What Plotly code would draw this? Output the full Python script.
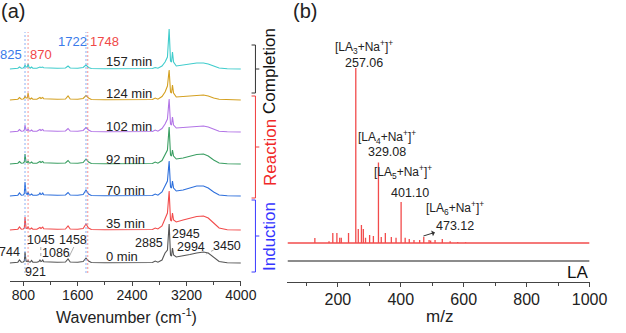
import plotly.graph_objects as go

W, H = 626, 333
FONT = "Liberation Sans, Arial, sans-serif"

# ---------------- Panel (a): FTIR spectra ----------------
wavenumbers = [600, 640, 660, 720, 744, 770, 800, 815, 825, 840, 858, 870, 885, 905, 921, 940,
               1000, 1030, 1045, 1060, 1075, 1086, 1100, 1140, 1180, 1220, 1300, 1420, 1458, 1490,
               1600, 1680, 1722, 1760, 1800, 2000, 2400, 2700, 2740, 2780, 2840, 2885, 2920, 2945,
               2965, 2980, 2994, 3010, 3050, 3150, 3250, 3350, 3450, 3520, 3600, 3680, 3800, 4000]

spec_0min = [0, 0.5, 0.3, 0.8, 3, 0.8, 1, 2, 11, 2, 1.5, 2.5, 1, 1, 2.5, 0.8, 0.8, 1.5, 3, 1.5,
             2, 3, 1.2, 1, 1.5, 1, 0.8, 1, 4, 1, 0.8, 1.5, 5, 2, 0.5, 0.3, 0.3, 0.5, 2, 0.8,
             3, 10, 13, 39, 8, 7, 15, 8, 6, 7, 8.5, 10, 11, 10, 6, 1.5, 0.3, 0]
spec_35min = [0, 0.5, 0.3, 0.8, 3, 0.8, 1, 2, 13, 2, 1.5, 3.5, 1, 1, 2, 0.8, 0.8, 1.5, 2.5, 1.5,
              2, 3, 1.2, 1, 1.5, 1, 0.8, 1, 4, 1, 0.8, 1.5, 6, 2, 0.5, 0.3, 0.3, 0.5, 2, 1,
              4, 12, 17, 39, 10, 9, 17, 10, 8, 10, 12, 13.5, 14, 12, 7, 2, 0.3, 0]
spec_70min = [0, 0.5, 0.3, 0.8, 3, 0.8, 1, 2.5, 14, 2.5, 1.5, 4, 1, 1, 2, 0.8, 0.8, 1.5, 3, 1.5,
              2, 3, 1.2, 1, 1.5, 1, 0.8, 1, 3.5, 1, 0.8, 1.5, 6, 2, 0.5, 0.3, 0.3, 0.5, 2, 0.8,
              4, 10, 15, 35, 9, 8, 15, 8, 5, 6, 8, 10, 10, 8, 4, 1, 0.3, 0]
spec_92min = [0, 0.5, 0.3, 0.8, 2.5, 0.8, 1, 2, 10, 2, 1.5, 3, 1, 1, 2, 0.8, 0.8, 1.5, 2.5, 1.5,
              2, 2.5, 1.2, 1, 1.5, 1, 0.8, 1, 3.5, 1, 0.8, 1.5, 5, 2, 0.5, 0.3, 0.3, 0.5, 2, 0.8,
              3.5, 9, 14, 37, 9, 8, 14, 8, 5, 6, 8, 9.5, 10, 8, 4, 1, 0.3, 0]
spec_102min = [0, 0.5, 0.3, 0.8, 2.5, 0.8, 1, 2, 7, 2, 1.5, 3, 1, 1, 2, 0.8, 0.8, 1.5, 2.5, 1.5,
               2, 2.5, 1.2, 1, 1.5, 1, 0.8, 1, 3.5, 1, 0.8, 1.5, 4.5, 2, 0.5, 0.3, 0.3, 0.5, 2, 0.8,
               3.5, 8, 13, 33, 8, 7, 15, 7, 4, 4.5, 5.5, 6, 6, 5, 2.5, 0.8, 0.3, 0]
spec_124min = [0, 0.5, 0.3, 0.8, 2.5, 0.8, 1, 2, 4, 2, 2, 7, 1.5, 1, 2, 0.8, 0.8, 1.5, 2.5, 1.5,
               2, 2.5, 1.2, 1, 1.5, 1, 0.8, 1, 4, 1, 0.8, 1.5, 4.5, 2, 0.5, 0.3, 0.3, 0.5, 2, 0.8,
               3.5, 8, 14, 30, 8, 7, 15, 7, 3, 3.5, 4.5, 5, 5, 4, 2, 0.8, 0.3, 0]
spec_157min = [0, 0.5, 0.3, 0.8, 2, 0.8, 1, 2, 4, 2, 2, 5, 1.5, 1, 2, 0.8, 0.8, 1.5, 2, 1.5,
               2, 2, 1.2, 1, 1.5, 1, 0.8, 1, 3, 1, 0.8, 1.5, 4, 1.5, 0.5, 0.3, 0.3, 0.5, 1.5, 0.8,
               3, 7, 12, 40, 8, 7, 17, 7, 3, 4, 5, 6, 6, 5, 3, 1, 0.3, 0]

time_labels = ["0 min", "35 min", "70 min", "92 min", "102 min", "124 min", "157 min"]
spectra = [spec_0min, spec_35min, spec_70min, spec_92min, spec_102min, spec_124min, spec_157min]
spec_colors = ["#555555", "#f24b4b", "#2d6fdc", "#3a9e62", "#b274e6", "#d4a020", "#3fcccc"]
offsets = [18, 51, 85, 117, 149, 181, 212]

marker_lines = [825, 870, 1722, 1748]
marker_colors = ["#3a7bea", "#f04848", "#3a7bea", "#f04848"]
marker_line_colors = ["#6f9cf0", "#f27a7a", "#6f9cf0", "#f27a7a"]

peak_labels = ["744", "921", "1045", "1086", "1458", "2885", "2945", "2994", "3450"]

# ---------------- Panel (b): MS ----------------
mz = [127, 172, 184, 197, 206, 211, 234, 257.06, 265, 275, 281, 288, 301, 313, 329.08, 338, 351,
      370, 385, 401.10, 414, 427, 442, 460, 473.12, 490, 495, 509, 532, 557, 581, 606]
intensity = [2.9, 1.0, 5.7, 5.7, 3.0, 3.0, 5.7, 100, 8.0, 10.3, 8.0, 3.0, 4.6, 4.0, 46, 3.4, 5.7,
             3.4, 3.0, 23.4, 3.0, 2.3, 1.7, 1.7, 3.4, 1.7, 1.5, 1.7, 2.3, 1.0, 0.6, 0.4]
ion_names = ["[LA<sub>3</sub>+Na<sup>+</sup>]<sup>+</sup>", "[LA<sub>4</sub>+Na<sup>+</sup>]<sup>+</sup>",
             "[LA<sub>5</sub>+Na<sup>+</sup>]<sup>+</sup>", "[LA<sub>6</sub>+Na<sup>+</sup>]<sup>+</sup>"]
ion_mz = ["257.06", "329.08", "401.10", "473.12"]

PROD_BASE = 39
LA_BASE = 21
PX_PER_PCT = 1.75
MZ_RANGE = [40, 1000]


def px(xp, yp):
    return xp / W, 1 - yp / H


fig = go.Figure()

for spec, off, col in zip(spectra, offsets, spec_colors):
    fig.add_trace(go.Scatter(x=wavenumbers, y=[v + off for v in spec], mode="lines",
                             line=dict(color=col, width=1.1), xaxis="x", yaxis="y",
                             hoverinfo="skip", showlegend=False))

xs, ys = [], []
for m, inten in zip(mz, intensity):
    xs += [m, m, None]
    ys += [PROD_BASE, PROD_BASE + inten * PX_PER_PCT, None]
fig.add_trace(go.Scatter(x=xs, y=ys, mode="lines", line=dict(color="#f24b4b", width=1.3),
                         xaxis="x2", yaxis="y2", hoverinfo="skip", showlegend=False))
fig.add_trace(go.Scatter(x=MZ_RANGE, y=[PROD_BASE] * 2, mode="lines",
                         line=dict(color="#f24b4b", width=1.3), xaxis="x2", yaxis="y2",
                         hoverinfo="skip", showlegend=False))
fig.add_trace(go.Scatter(x=MZ_RANGE, y=[LA_BASE] * 2, mode="lines",
                         line=dict(color="#666666", width=1.3), xaxis="x2", yaxis="y2",
                         hoverinfo="skip", showlegend=False))

shapes = []
for wn, c in zip(marker_lines, marker_line_colors):
    shapes.append(dict(type="line", xref="x", yref="y", x0=wn, x1=wn, y0=8, y1=249,
                       line=dict(color=c, width=0.8, dash="2px,2px")))

# brackets
brackets = [(45, 93, "#333333"), (96, 198, "#f03c3c"), (200, 272, "#3b3bff")]
for top, bot, c in brackets:
    mid = (top + bot) / 2
    for (xa, ya, xb, yb) in [(259, top, 263, top), (263, top, 263, bot), (259, bot, 263, bot),
                             (263, mid, 267, mid)]:
        x0, y0 = px(xa, ya)
        x1, y1 = px(xb, yb)
        shapes.append(dict(type="line", xref="paper", yref="paper", x0=x0, y0=y0, x1=x1, y1=y1,
                           line=dict(color=c, width=1)))

# leader lines for a few peak labels (pixel positions)
for (xa, ya, xb, yb, dash) in [(42, 247, 42, 259, "dot"), (76, 247, 71, 257, "solid"),
                               (220, 250, 212, 254, "dot")]:
    x0, y0 = px(xa, ya)
    x1, y1 = px(xb, yb)
    shapes.append(dict(type="line", xref="paper", yref="paper", x0=x0, y0=y0, x1=x1, y1=y1,
                       line=dict(color="#999999", width=0.8, dash=dash)))

ann = []


def add_text(text, x, y, size, color="#222222", xref="x", yref="y", xanchor="center", **kw):
    ann.append(dict(text=text, x=x, y=y, xref=xref, yref=yref, showarrow=False,
                    xanchor=xanchor, yanchor="middle",
                    font=dict(family=FONT, size=size, color=color), **kw))


# time labels
time_pos_y = [25, 58, 91, 122, 155, 188, 219]
for t, yv in zip(time_labels, time_pos_y):
    add_text(t, 1986, yv, 13, xanchor="left")

# marker line labels
marker_text_pos = [(614, 226), (1064, 226), (1521, 239), (2000, 239)]
for wn, c, (xv, yv) in zip(marker_lines, marker_colors, marker_text_pos):
    add_text(str(wn), xv, yv, 13, color=c)

# peak labels of 0 min spectrum
peak_pos = [(600, 29), (986, 9), (1057, 41), (1279, 28), (1536, 41), (2650, 38),
            (3200, 47), (3264, 34), (3800, 35)]
for lab, (xv, yv) in zip(peak_labels, peak_pos):
    add_text(lab, xv, yv, 12.5)

# bracket texts
for txt, yc, c in [("Completion", 71, "#111111"), ("Reaction", 153, "#f02828"),
                   ("Induction", 237, "#3535ff")]:
    xp, yp = px(278, yc)
    add_text(txt, xp, yp, 17, color=c, xref="paper", yref="paper", textangle=-90)

# panel labels and axis titles
for txt, xc, yc, s in [("(a)", 13, 11, 20), ("(b)", 314, 11, 20),
                       ("Wavenumber (cm<sup>-1</sup>)", 130, 316, 16), ("m/z", 453, 316, 17)]:
    xp, yp = px(xc, yc)
    add_text(txt, xp, yp, s, xref="paper", yref="paper")

# MS ion labels
ion_label_pos = [((284, 235), (284, 219)), ((355, 145), (355, 130)),
                 ((408, 110), (429, 89)), ((571, 74), None)]
for name, val, (p1, p2) in zip(ion_names, ion_mz, ion_label_pos):
    add_text(name, p1[0], p1[1], 12, xref="x2", yref="y2")
    if p2 is not None:
        add_text(val, p2[0], p2[1], 12.5, xref="x2", yref="y2")

ann.append(dict(text=ion_mz[3], x=472, y=PROD_BASE + 7, xref="x2", yref="y2", showarrow=True,
                ax=32, ay=-10, arrowside="start", arrowhead=2, arrowsize=0.8, arrowwidth=1,
                arrowcolor="#333333", font=dict(family=FONT, size=12.5, color="#222222")))

add_text("Products", 1008, 55, 17, color="#f02828", xref="x2", yref="y2", xanchor="right")
add_text("LA", 1000, 10, 17, color="#111111", xref="x2", yref="y2", xanchor="right")

axis_common = dict(showgrid=False, zeroline=False, showline=True, linecolor="#444444",
                   linewidth=1, ticks="outside", tickcolor="#444444", tickwidth=1)

fig.update_layout(
    width=W, height=H, margin=dict(l=0, r=0, t=0, b=0),
    paper_bgcolor="white", plot_bgcolor="white", showlegend=False,
    font=dict(family=FONT, color="#222222"),
    xaxis=dict(domain=[10 / W, 248 / W], range=[600, 4000], tick0=0, dtick=800, ticklen=4,
               ticklabelstandoff=-3,
               tickfont=dict(size=14, family=FONT, color="#222222"),
               minor=dict(dtick=400, tick0=0, ticklen=3, ticks="outside", tickcolor="#444444"),
               anchor="y", **axis_common),
    yaxis=dict(domain=[1 - 281 / H, 1 - 20 / H], range=[0, 261], visible=False, anchor="x"),
    xaxis2=dict(domain=[296 / W, 607 / W], range=MZ_RANGE, tick0=0, dtick=200, ticklen=4,
                ticklabelstandoff=-1,
                tickfont=dict(size=16, family=FONT, color="#222222"),
                minor=dict(dtick=100, tick0=0, ticklen=3, ticks="outside", tickcolor="#444444"),
                anchor="y2", **axis_common),
    yaxis2=dict(domain=[1 - 282 / H, 1 - 20 / H], range=[0, 262], visible=False, anchor="x2"),
    shapes=shapes, annotations=ann,
)

fig.write_html("out.html")
